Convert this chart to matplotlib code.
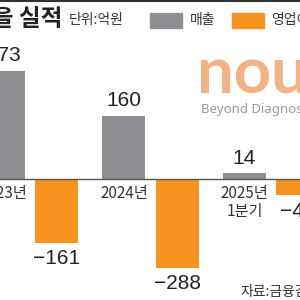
import numpy as np
import matplotlib.pyplot as plt
from matplotlib.patches import Rectangle
from matplotlib.lines import Line2D

# data (unit: 100 million won)
periods = ['2023년', '2024년', '2025년\n1분기']
sales = [273, 160, 14]
op_profit = [-161, -288, -41]

GRAY = '#8d8f92'
ORANGE = '#f7931e'
NUM_FONT = ['Liberation Sans Narrow', 'Liberation Sans', 'DejaVu Sans']
KR_FONT = ['Noto Sans CJK KR', 'DejaVu Sans']
plt.rcParams['font.family'] = KR_FONT

# long negative bars are drawn compressed below the break
BREAK = -161
K = 0.504
def fwd(y):
    y = np.asarray(y, dtype=float)
    return np.where(y < BREAK, BREAK + (y - BREAK) * K, y)
def inv(t):
    t = np.asarray(t, dtype=float)
    return np.where(t < BREAK, BREAK + (t - BREAK) / K, t)

fig = plt.figure(figsize=(3, 3), dpi=100)
ax = fig.add_axes([0, 0, 1, 1])
ax.set_yscale('function', functions=(fwd, inv))

x = np.arange(len(periods))
w = 0.357
off = 0.222
ax.bar(x - off, sales, w, color=GRAY)
ax.bar(x + off, op_profit, w, color=ORANGE)
ax.axhline(0, color='#555555', lw=1)

ax.set_xlim(-0.251, 2.239)
ax.set_ylim(inv(-306.3), 453.2)
ax.axis('off')

def fmt(v):
    return str(v).replace('-', '−')

for xi, v in zip(x, sales):
    ax.annotate(fmt(v), (xi - off, v), xytext=(0, 11), textcoords='offset points',
                ha='center', va='center', fontsize=15, color='#222222', family=NUM_FONT)
for xi, v in zip(x, op_profit):
    ax.annotate(fmt(v), (xi + off, v), xytext=(0, -11.5), textcoords='offset points',
                ha='center', va='center', fontsize=15, color='#222222', family=NUM_FONT)
for xi, p in zip(x, periods):
    ax.annotate(p, (xi - off, 0), xytext=(0, -4), textcoords='offset points',
                ha='center', va='top', fontsize=11, color='#333333', linespacing=1.1)

# header
fig.add_artist(Line2D([0, 1], [0.997, 0.997], color='#333333', lw=1.5))
fig.text(62 / 300, 1 - 19 / 300, '노을 실적', ha='right', va='center',
         fontsize=17, fontweight='bold', color='#222222')
fig.text(69 / 300, 1 - 20 / 300, '단위:억원', ha='left', va='center',
         fontsize=10, color='#333333')
fig.add_artist(Rectangle((150 / 300, 1 - 28 / 300), 32 / 300, 15 / 300,
                         transform=fig.transFigure, color=GRAY))
fig.text(190 / 300, 1 - 20 / 300, '매출', ha='left', va='center', fontsize=10, color='#333333')
fig.add_artist(Rectangle((232 / 300, 1 - 28 / 300), 32 / 300, 15 / 300,
                         transform=fig.transFigure, color=ORANGE))
fig.text(271 / 300, 1 - 20 / 300, '영업이익', ha='left', va='center', fontsize=10, color='#333333')

# logo
fig.text(197 / 300, 1 - 93 / 300, 'nou', ha='left', va='baseline', fontsize=47,
         color='#f3b283', family=['Lato', 'DejaVu Sans'], fontweight='bold')
fig.text(201 / 300, 1 - 109 / 300, 'Beyond Diagnostics', ha='left', va='center',
         fontsize=9.5, color='#9a9a9a', family=['Noto Sans', 'DejaVu Sans'])

fig.text(240 / 300, 1 - 292 / 300, '자료:금융감독원', ha='left', va='center',
         fontsize=10, color='#333333')

fig.savefig('out.png', dpi=100)
